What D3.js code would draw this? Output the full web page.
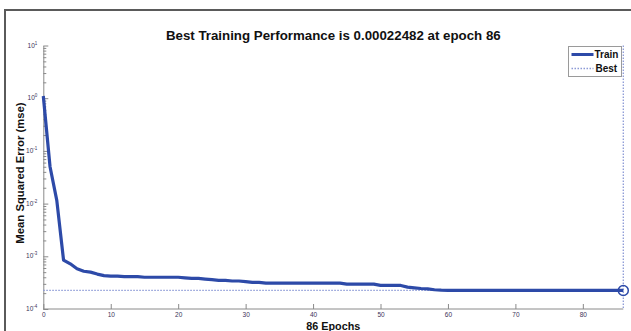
<!DOCTYPE html>
<html lang="en">
<head>
<meta charset="UTF-8">
<script src="https://d3js.org/d3.v7.min.js"></script>
<style>
  body { margin: 0; background: #fff; }
  svg { display: block; font-family: "Liberation Sans", Arial, sans-serif; }
</style>
</head>
<body>
<div id="chart"></div>
<script>
    // training performance (mse) per epoch, 0..86
    var perf = [
        1.1, 0.05, 0.0115, 0.00085, 0.00072, 0.00058, 0.00052, 0.00050, 0.00046, 0.00043,
        0.00042, 0.00042, 0.00041, 0.00041, 0.00041, 0.00040, 0.00040, 0.00040, 0.00040, 0.00040,
        0.00040, 0.00039, 0.00038, 0.00038, 0.00037, 0.00036, 0.00035, 0.00035, 0.00034, 0.00034,
        0.00033, 0.00032, 0.00032, 0.00031, 0.00031, 0.00031, 0.00031, 0.00031, 0.00031, 0.00031,
        0.00031, 0.00031, 0.00031, 0.00031, 0.00031, 0.000296, 0.000296, 0.000296, 0.000296, 0.000296,
        0.00028, 0.00028, 0.00028, 0.00028, 0.00026, 0.000252, 0.000245, 0.00024, 0.000232, 0.000228,
        0.000226, 0.000226, 0.000226, 0.000226, 0.000226, 0.000226, 0.000226, 0.000226, 0.000226, 0.000226,
        0.000225, 0.000225, 0.000225, 0.000225, 0.000225, 0.000225, 0.000225, 0.000225, 0.000225, 0.000225,
        0.000225, 0.000225, 0.000225, 0.000225, 0.000225, 0.000225, 0.00022482
    ];
    var bestEpoch = 86, bestPerf = 0.00022482;
    var xTicks = [0, 10, 20, 30, 40, 50, 60, 70, 80];
    var yExps = [-4, -3, -2, -1, 0, 1];
    var yMinorMult = [2, 3, 4, 5, 6, 7, 8, 9];

    var W = 631, H = 331;
    var pLeft = 43.3, pRight = 623.3, pTop = 45.5, pBottom = 309;

    var svg = d3.select("#chart").append("svg")
        .attr("width", W).attr("height", H);

    // outer frame (top and left edges only visible)
    svg.append("path")
        .attr("d", "M5,331V10H631")
        .attr("fill", "none").attr("stroke", "#5a5a5a").attr("stroke-width", 2);

    var x = d3.scaleLinear().domain([0, 86]).range([pLeft, pRight]);
    var y = d3.scaleLog().domain([1e-4, 10]).range([pBottom, pTop]);

    // y axis major + minor ticks
    var yMajor = yExps.map(function(e) { return Math.pow(10, e); });
    var yMinor = [];
    yExps.slice(0, -1).forEach(function(e) {
        yMinorMult.forEach(function(m) { yMinor.push(m * Math.pow(10, e)); });
    });

    var gy = svg.append("g").attr("transform", "translate(" + pLeft + ",0)");
    gy.call(d3.axisLeft(y).tickValues(yMajor).tickSizeInner(-5).tickSizeOuter(0).tickFormat(""));
    gy.append("g").call(d3.axisLeft(y).tickValues(yMinor).tickSizeInner(-3).tickSizeOuter(0).tickFormat(""))
        .select(".domain").remove();
    gy.selectAll("path, line").attr("stroke", "#8a8a8a");

    var ylab = gy.selectAll(".ylab").data(yExps).enter().append("text")
        .attr("class", "ylab")
        .attr("x", -6).attr("y", function(e) { return y(Math.pow(10, e)) + 2; })
        .attr("text-anchor", "end")
        .attr("fill", "#3b3358").attr("font-size", 6.5);
    ylab.append("tspan").text("10");
    ylab.append("tspan").attr("dy", -3).attr("font-size", 4.5).text(function(e) { return e; });

    // x axis
    var gx = svg.append("g").attr("transform", "translate(0," + pBottom + ")");
    gx.call(d3.axisBottom(x).tickValues(xTicks).tickSizeInner(-5).tickSizeOuter(0).tickPadding(3));
    gx.selectAll("path, line").attr("stroke", "#8a8a8a");
    gx.selectAll("text").attr("font-size", 6.5).attr("fill", "#3b3358").attr("font-family", null);
    gx.select(".domain").attr("d", "M" + pLeft + ",0H" + pRight);

    // best markers
    svg.append("line")
        .attr("x1", x(0)).attr("x2", x(bestEpoch))
        .attr("y1", y(bestPerf)).attr("y2", y(bestPerf))
        .attr("stroke", "#8c9ad6").attr("stroke-width", 1.3).attr("stroke-dasharray", "1.5,1.5");
    svg.append("line")
        .attr("x1", x(bestEpoch)).attr("x2", x(bestEpoch))
        .attr("y1", pTop).attr("y2", pBottom)
        .attr("stroke", "#8c9ad6").attr("stroke-width", 1.3).attr("stroke-dasharray", "1.5,1.5");

    // train line
    var line = d3.line()
        .x(function(d, i) { return x(i); })
        .y(function(d) { return y(d); });
    svg.append("path")
        .datum(perf)
        .attr("d", line)
        .attr("fill", "none")
        .attr("stroke", "#2d4aa8")
        .attr("stroke-width", 3.2)
        .attr("stroke-linejoin", "round");

    svg.append("circle")
        .attr("cx", x(bestEpoch)).attr("cy", y(bestPerf)).attr("r", 5)
        .attr("fill", "none").attr("stroke", "#2d4aa8").attr("stroke-width", 1.5);

    // title & labels
    svg.append("text")
        .attr("x", (pLeft + pRight) / 2).attr("y", 40)
        .attr("text-anchor", "middle").attr("font-weight", "bold").attr("font-size", 13.3)
        .attr("fill", "#111")
        .text("Best Training Performance is 0.00022482 at epoch 86");

    svg.append("text")
        .attr("x", (pLeft + pRight) / 2).attr("y", 329.5)
        .attr("text-anchor", "middle").attr("font-weight", "bold").attr("font-size", 10.8)
        .attr("fill", "#111")
        .text("86 Epochs");

    svg.append("text")
        .attr("transform", "translate(24,173) rotate(-90)")
        .attr("text-anchor", "middle").attr("font-weight", "bold").attr("font-size", 11.3)
        .attr("fill", "#111")
        .text("Mean Squared Error  (mse)");

    // legend
    var lg = svg.append("g").attr("transform", "translate(568.5,46.5)");
    lg.append("rect").attr("width", 53).attr("height", 30)
        .attr("fill", "#fff").attr("stroke", "#9a9a9a").attr("stroke-width", 1);
    lg.append("line").attr("x1", 3).attr("x2", 25).attr("y1", 8).attr("y2", 8)
        .attr("stroke", "#2d4aa8").attr("stroke-width", 3);
    lg.append("line").attr("x1", 3).attr("x2", 25).attr("y1", 22).attr("y2", 22)
        .attr("stroke", "#8c9ad6").attr("stroke-width", 1.3).attr("stroke-dasharray", "1.5,1.5");
    lg.append("text").attr("x", 26).attr("y", 11.5).attr("font-size", 10).attr("font-weight", "bold")
        .attr("fill", "#111").text("Train");
    lg.append("text").attr("x", 27).attr("y", 25.5).attr("font-size", 10).attr("font-weight", "bold")
        .attr("fill", "#111").text("Best");
</script>
</body>
</html>
